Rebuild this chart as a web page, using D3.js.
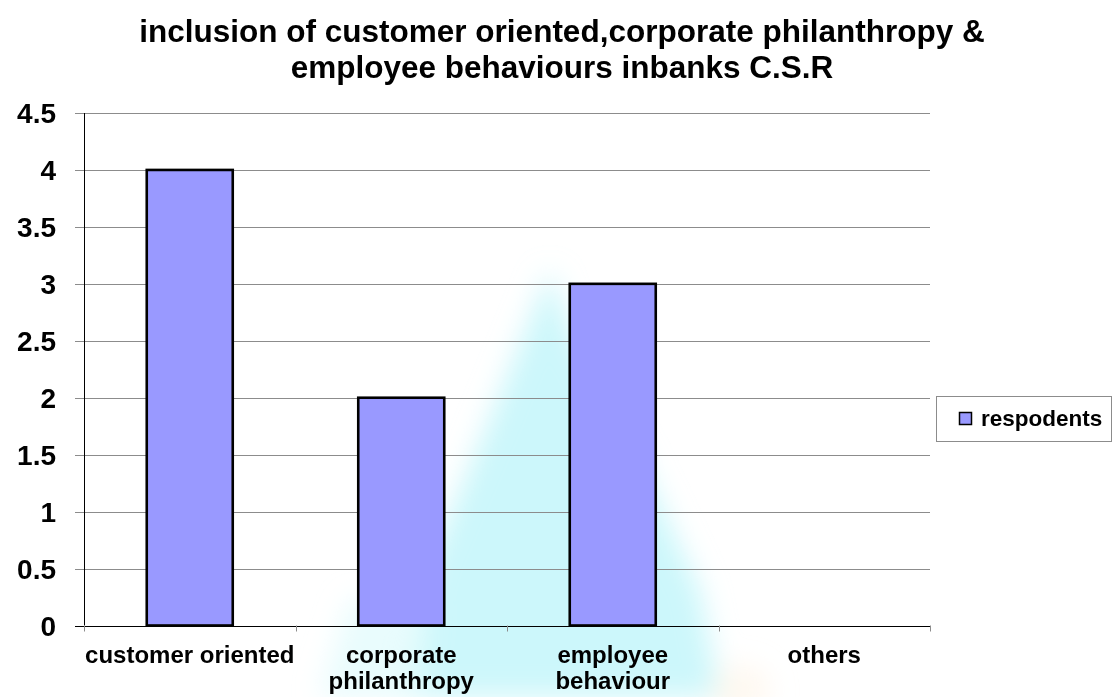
<!DOCTYPE html>
<html>
<head>
<meta charset="utf-8">
<script src="https://cdn.jsdelivr.net/npm/d3@7"></script>
<style>
  body { margin: 0; background: #fff; }
  text { font-family: "Liberation Sans", Arial, sans-serif; font-weight: bold; fill: #000; }
</style>
</head>
<body>
<svg width="1118" height="697"></svg>
<script>
// chart data
var categories = ["customer oriented", "corporate philanthropy", "employee behaviour", "others"]
var labelLines = [["customer oriented"], ["corporate", "philanthropy"], ["employee", "behaviour"], ["others"]]
var respodents = [4, 2, 3, 0]
var yTicks = [0, 0.5, 1, 1.5, 2, 2.5, 3, 3.5, 4, 4.5]
var titleLines = ["inclusion of customer oriented,corporate philanthropy &", "employee behaviours inbanks C.S.R"]
var seriesName = "respodents"

var margin = ({top: 113, right: 188, bottom: 71, left: 84})
var width = 1118, height = 697

var svg = d3.select("svg")

// faint watermark picture behind the plot
var defs = svg.append("defs")
defs.append("filter").attr("id", "blur")
    .append("feGaussianBlur").attr("stdDeviation", 14)
var wm = svg.append("g").attr("filter", "url(#blur)")
wm.append("path")
    .attr("d", "M550,270 L575,340 L640,460 L700,590 L720,697 L400,697 L430,560 L485,430 Z")
    .attr("fill", "#c6f6fb")
    .attr("opacity", 0.9)
wm.append("path")
    .attr("d", "M320,697 L350,600 L430,600 L420,697 Z")
    .attr("fill", "#e4fbfd")
    .attr("opacity", 0.8)
wm.append("ellipse")
    .attr("cx", 740).attr("cy", 690).attr("rx", 30).attr("ry", 25)
    .attr("fill", "#fdf1e2").attr("opacity", 0.5)

var x = d3.scaleBand()
    .domain(categories)
    .range([margin.left, width - margin.right])
    .paddingInner(0)

var y = d3.scaleLinear()
    .domain([0, 4.5])
    .range([height - margin.bottom - 0.5, margin.top])

// gridlines + y ticks
svg.append("g")
    .selectAll("line")
    .data(yTicks)
    .join("line")
    .attr("x1", margin.left - 9)
    .attr("x2", width - margin.right)
    .attr("y1", d => Math.round(y(d)) + 0.5)
    .attr("y2", d => Math.round(y(d)) + 0.5)
    .attr("stroke", d => d == 0 ? "#000" : "#8c8c8c")
    .attr("stroke-width", 1.2)

svg.append("g")
    .selectAll("text")
    .data(yTicks)
    .join("text")
    .attr("x", 56)
    .attr("y", d => y(d) + 10)
    .attr("text-anchor", "end")
    .attr("font-size", "28px")
    .text(d => d)

// y axis line
svg.append("line")
    .attr("x1", margin.left + 0.5).attr("x2", margin.left + 0.5)
    .attr("y1", y(4.5)).attr("y2", y(0))
    .attr("stroke", "#000")

// x tick marks at band edges
var edges = categories.map(c => x(c)).concat([width - margin.right])
svg.append("g")
    .selectAll("line")
    .data(edges)
    .join("line")
    .attr("x1", d => Math.round(d) + 0.5)
    .attr("x2", d => Math.round(d) + 0.5)
    .attr("y1", y(0))
    .attr("y2", y(0) + 6)
    .attr("stroke", "#8c8c8c")

// bars
var bw = 86
svg.append("g")
    .selectAll("rect")
    .data(categories.map((c, i) => ({cat: c, v: respodents[i]})).filter(d => d.v > 0))
    .join("rect")
    .attr("x", d => x(d.cat) + x.bandwidth() / 2 - bw / 2)
    .attr("y", d => y(d.v))
    .attr("width", bw)
    .attr("height", d => y(0) - y(d.v))
    .attr("fill", "#9999ff")
    .attr("stroke", "#000")
    .attr("stroke-width", 2.6)

// category labels
svg.append("g")
    .selectAll("text")
    .data(categories)
    .join("text")
    .attr("text-anchor", "middle")
    .attr("font-size", "24px")
    .attr("x", d => x(d) + x.bandwidth() / 2)
    .attr("y", 663)
    .selectAll("tspan")
    .data((d, i) => labelLines[i])
    .join("tspan")
    .attr("x", function() { return d3.select(this.parentNode).attr("x") })
    .attr("dy", (d, i) => i == 0 ? 0 : 26)
    .text(d => d)

// title
svg.append("g")
    .selectAll("text")
    .data(titleLines)
    .join("text")
    .attr("x", 562)
    .attr("y", (d, i) => 42 + i * 36)
    .attr("text-anchor", "middle")
    .attr("font-size", "31.5px")
    .text(d => d)

// legend
var lg = svg.append("g")
lg.append("rect")
    .attr("x", 936.5).attr("y", 396.5)
    .attr("width", 175).attr("height", 45)
    .attr("fill", "#fff")
    .attr("stroke", "#8c8c8c")
lg.append("rect")
    .attr("x", 959.5).attr("y", 412.5)
    .attr("width", 12).attr("height", 12)
    .attr("fill", "#9999ff")
    .attr("stroke", "#000")
    .attr("stroke-width", 1.5)
lg.append("text")
    .attr("x", 981).attr("y", 426)
    .attr("font-size", "22.5px")
    .text(seriesName)
</script>
</body>
</html>
